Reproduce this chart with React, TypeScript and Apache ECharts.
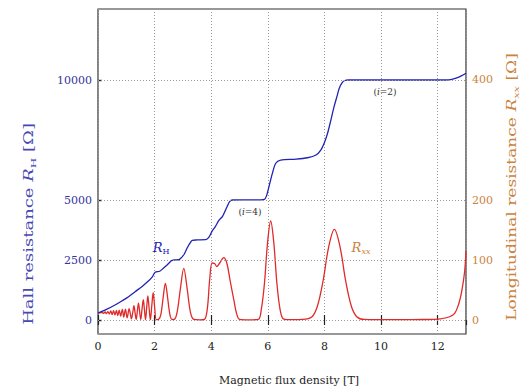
import React, { useEffect, useRef } from "react";
import * as echarts from "echarts";

// Hall resistance R_H [Ω] vs magnetic flux density B [T]
const hallB = [0, 0.3, 0.6, 0.85, 1.08, 1.3, 1.55, 1.75, 1.92, 2.02, 2.18, 2.3, 2.45, 2.6, 2.68, 2.85, 2.95, 3.05, 3.15, 3.25, 3.33, 3.5, 3.8, 3.92, 4.03, 4.15, 4.27, 4.4, 4.56, 4.65, 4.75, 5.5, 5.88, 5.96, 6.04, 6.16, 6.28, 6.45, 7.0, 7.4, 7.7, 7.87, 8.0, 8.11, 8.22, 8.34, 8.45, 8.52, 8.62, 8.72, 8.85, 12.3, 12.5, 12.7, 12.85, 13];
const hallR = [290, 440, 625, 800, 970, 1170, 1390, 1590, 1800, 1990, 2030, 2150, 2300, 2480, 2500, 2510, 2600, 2750, 3000, 3200, 3320, 3335, 3345, 3450, 3700, 3900, 4150, 4320, 4720, 4930, 5000, 5005, 5030, 5200, 5560, 6110, 6530, 6660, 6700, 6760, 6875, 7080, 7400, 7780, 8300, 8890, 9350, 9650, 9880, 9980, 10000, 10000, 10030, 10100, 10180, 10280];

// Longitudinal resistance R_xx [Ω] vs B [T]
const rxxB = [0, 0.15, 0.2, 0.25, 0.3, 0.35, 0.4, 0.45, 0.5, 0.55, 0.6, 0.65, 0.7, 0.75, 0.8, 0.86, 0.91, 0.97, 1.03, 1.1, 1.14, 1.18, 1.23, 1.27, 1.31, 1.35, 1.39, 1.43, 1.47, 1.51, 1.555, 1.6, 1.64, 1.68, 1.72, 1.76, 1.805, 1.85, 1.9, 1.95, 2.0, 2.06, 2.14, 2.22, 2.3, 2.38, 2.46, 2.54, 2.62, 2.69, 2.79, 2.91, 3.03, 3.15, 3.27, 3.39, 3.6, 3.76, 3.86, 3.95, 4.03, 4.12, 4.2, 4.3, 4.44, 4.55, 4.67, 4.8, 4.9, 5.0, 5.3, 5.66, 5.77, 5.88, 5.99, 6.1, 6.21, 6.32, 6.43, 6.54, 6.7, 7.2, 7.55, 7.75, 7.95, 8.15, 8.35, 8.55, 8.75, 8.95, 9.15, 9.4, 10.5, 11.5, 12.1, 12.4, 12.6, 12.75, 12.85, 12.95, 13];
const rxxR = [12, 12.5, 11, 13.5, 10.5, 14, 10, 15, 9, 15.5, 8.5, 16, 7.5, 16.5, 6.5, 17.5, 5, 18, 3.5, 19, 11, 2, 13, 24, 12, 1, 15, 28, 14, 0.8, 18, 34, 17, 0.6, 21, 40, 20, 0.5, 24, 45.5, 22, 0.5, 1, 9, 37, 61, 37, 9, 0.8, 1, 12, 52, 86, 52, 12, 1, 0.3, 1, 18, 70, 95, 94, 89, 95, 104, 95, 65, 33, 10, 1, 0.3, 1, 18, 61, 129, 165, 129, 61, 18, 2, 0.5, 1, 5, 23, 65, 122, 151, 122, 65, 23, 5, 1, 0.5, 0.8, 2, 5, 11, 28, 48, 80, 115];

const leftTicks = [0, 2500, 5000, 10000];
const rightTicks = [0, 100, 200, 400];
const gridLinesY = [0, 2500, 5000, 10000];

const FONT = '"DejaVu Serif", "Liberation Serif", serif';
const BLUE = "#2222b4";
const RED = "#e02a2a";
const ORANGE = "#c9843e";

export default function App() {
  const ref = useRef<HTMLDivElement>(null);
  useEffect(() => {
    if (!ref.current) return;
    const chart = echarts.init(ref.current, null, { renderer: "svg" });
    const hallData = hallB.map((b, i) => [b, hallR[i]]);
    const rxxData = rxxB.map((b, i) => [b, rxxR[i]]);
    chart.setOption({
      animation: false,
      backgroundColor: "#ffffff",
      grid: { left: 98, right: 55, top: 9, bottom: 54, show: true, borderColor: "#333", borderWidth: 1.2, backgroundColor: "transparent" },
      xAxis: [
        {
          type: "value", min: 0, max: 13, interval: 2, position: "bottom",
          axisLine: { show: false },
          axisTick: { inside: true, length: 5, lineStyle: { color: "#222", width: 1.2 } },
          axisLabel: { color: "#222", fontFamily: FONT, fontSize: 11, margin: 7, showMaxLabel: false, formatter: (v: number) => String(v) },
          splitLine: { show: true, lineStyle: { type: [1, 2], color: "#999", width: 1 } },
        },
        {
          type: "value", min: 0, max: 13, interval: 2, position: "top",
          axisLine: { show: false },
          axisTick: { inside: true, length: 5, lineStyle: { color: "#222", width: 1.2 } },
          axisLabel: { show: false },
          splitLine: { show: false },
        },
      ],
      yAxis: [
        {
          type: "value", min: -583.33, max: 12958.33, position: "left",
          axisLine: { show: false },
          axisTick: { show: true, inside: true, length: 4, customValues: leftTicks, lineStyle: { color: "#222", width: 1.2 } },
          axisLabel: { customValues: leftTicks, color: "#34349e", fontFamily: FONT, fontSize: 11, margin: 6, formatter: (v: number) => String(v) },
          splitLine: { show: false },
        },
        {
          type: "value", min: -23.333, max: 518.333, position: "right",
          axisLine: { show: false },
          axisTick: { show: true, inside: false, length: 4, customValues: rightTicks, lineStyle: { color: "#222", width: 1.2 } },
          axisLabel: { customValues: rightTicks, color: ORANGE, fontFamily: FONT, fontSize: 11, margin: 6, formatter: (v: number) => String(v) },
          splitLine: { show: false },
        },
      ],
      series: [
        {
          type: "line", name: "grid", data: [], xAxisIndex: 0, yAxisIndex: 0, z: 1, silent: true,
          markLine: {
            silent: true, symbol: ["none", "none"], label: { show: false },
            lineStyle: { type: [1, 2], color: "#999", width: 1 },
            data: gridLinesY.map((v) => ({ yAxis: v })),
          },
        },
        {
          type: "line", name: "R_H", data: hallData, xAxisIndex: 0, yAxisIndex: 0, z: 3,
          showSymbol: false, smooth: 0.3, lineStyle: { color: BLUE, width: 1.3 },
        },
        {
          type: "line", name: "R_xx", data: rxxData, xAxisIndex: 0, yAxisIndex: 1, z: 2,
          showSymbol: false, smooth: 0.35, lineStyle: { color: RED, width: 1.3 },
        },
      ],
      graphic: [
        {
          type: "text", x: 29, y: 224, rotation: Math.PI / 2, scaleX: 1.5,
          style: {
            text: "{a|Hall resistance }{i|R}{s|H}{a| [Ω]}",
            align: "center", verticalAlign: "middle",
            rich: {
              a: { fontFamily: FONT, fontSize: 12, fill: "#4848b4", lineHeight: 16 },
              i: { fontFamily: FONT, fontSize: 12, fontStyle: "italic", fill: "#4848b4", lineHeight: 16 },
              s: { fontFamily: FONT, fontSize: 8, fill: "#4848b4", lineHeight: 16, verticalAlign: "bottom" },
            },
          },
        },
        {
          type: "text", x: 512, y: 187, rotation: Math.PI / 2, scaleX: 1.42,
          style: {
            text: "{a|Longitudinal resistance }{i|R}{s|xx}{a| [Ω]}",
            align: "center", verticalAlign: "middle",
            rich: {
              a: { fontFamily: FONT, fontSize: 12, fill: ORANGE, lineHeight: 16 },
              i: { fontFamily: FONT, fontSize: 12, fontStyle: "italic", fill: ORANGE, lineHeight: 16 },
              s: { fontFamily: FONT, fontSize: 8, fontStyle: "italic", fill: ORANGE, lineHeight: 16, verticalAlign: "bottom" },
            },
          },
        },
        {
          type: "text", x: 289, y: 380,
          style: { text: "Magnetic flux density [T]", fontFamily: FONT, fontSize: 11, fill: "#222", align: "center", verticalAlign: "middle" },
        },
        {
          type: "text", x: 161, y: 247,
          style: {
            text: "{i|R}{s|H}", align: "center", verticalAlign: "middle",
            rich: {
              i: { fontFamily: FONT, fontSize: 13, fontStyle: "italic", fill: BLUE, lineHeight: 16 },
              s: { fontFamily: FONT, fontSize: 8, fill: BLUE, lineHeight: 16, verticalAlign: "bottom" },
            },
          },
        },
        {
          type: "text", x: 361, y: 247,
          style: {
            text: "{i|R}{s|xx}", align: "center", verticalAlign: "middle",
            rich: {
              i: { fontFamily: FONT, fontSize: 13, fontStyle: "italic", fill: ORANGE, lineHeight: 16 },
              s: { fontFamily: FONT, fontSize: 8, fontStyle: "italic", fill: ORANGE, lineHeight: 16, verticalAlign: "bottom" },
            },
          },
        },
        {
          type: "text", x: 250, y: 212,
          style: {
            text: "{a|(}{i|i}{a|=4)}", align: "center", verticalAlign: "middle",
            rich: {
              a: { fontFamily: FONT, fontSize: 9, fill: "#333" },
              i: { fontFamily: FONT, fontSize: 9, fontStyle: "italic", fill: "#333" },
            },
          },
        },
        {
          type: "text", x: 385, y: 92,
          style: {
            text: "{a|(}{i|i}{a|=2)}", align: "center", verticalAlign: "middle",
            rich: {
              a: { fontFamily: FONT, fontSize: 9, fill: "#333" },
              i: { fontFamily: FONT, fontSize: 9, fontStyle: "italic", fill: "#333" },
            },
          },
        },
      ],
    });
    return () => chart.dispose();
  }, []);
  return <div ref={ref} style={{ position: "fixed", left: 0, top: 0, width: 521, height: 388 }} />;
}
